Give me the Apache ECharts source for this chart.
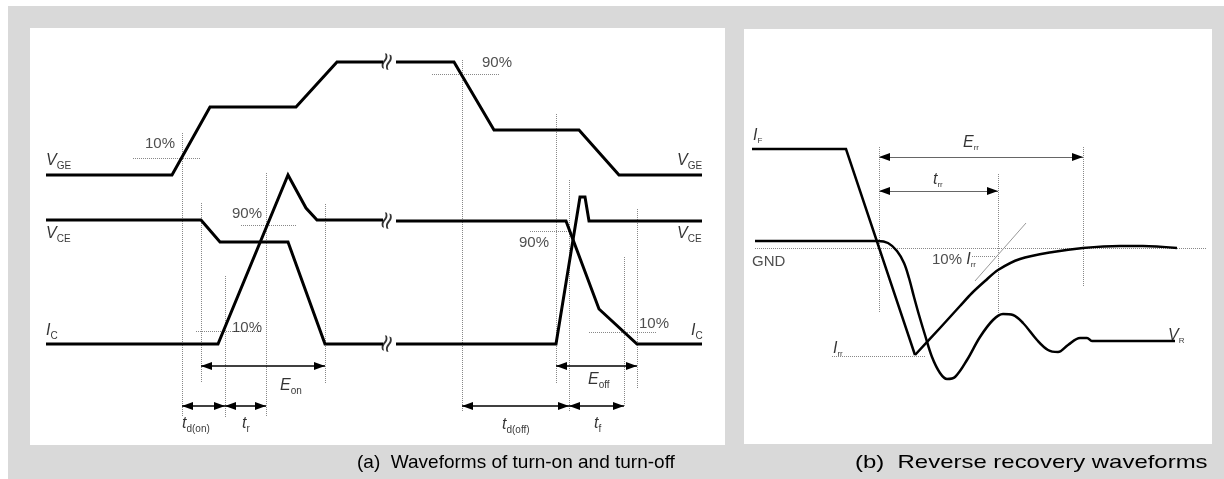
<!DOCTYPE html>
<html><head><meta charset="utf-8">
<script src="https://cdn.jsdelivr.net/npm/echarts@6/dist/echarts.min.js"></script>
<style>
html,body{margin:0;padding:0;background:#fff;}
#bg{position:absolute;left:8px;top:6px;width:1216px;height:473px;background:#d9d9d9;}
#chart{position:absolute;left:0;top:0;width:1224px;height:479px;}
</style></head><body><div id="bg"></div><div id="chart"></div>
<script>
// ---- Panel (a): turn-on / turn-off waveforms (time, level) ----
var vgeOn  = [[46,175],[172,175],[210,107],[296,107],[337,62],[383,62]];
var vgeOff = [[396,62],[454,62],[494,130],[579,130],[619,175],[702,175]];
var vceOn  = [[46,220],[201,220],[220,242],[288,242],[325,344],[383,344]];
var icOn   = [[46,344],[218,344],[288,175],[306,208],[317,220],[383,220]];
var topOff = [[396,221],[566,221],[599,309],[637,344],[702,344]];
var botOff = [[396,344],[556,344],[580,197],[585,197],[589,221],[702,221]];
var breaksA = [[388,62],[388,221],[388,344]];
var dottedA = [
  [[182,133],[182,417]], [[133,158],[201,158]], [[201,203],[201,383]],
  [[225,276],[225,417]], [[266,173],[266,417]], [[241,225],[297,225]],
  [[325,204],[325,383]], [[196,331],[262,331]], [[462,60],[462,411]],
  [[432,74],[499,74]],   [[556,114],[556,383]], [[569,180],[569,411]],
  [[637,209],[637,388]], [[624,257],[624,407]], [[530,231],[569,231]],
  [[589,332],[657,332]]
];
var arrowsA = [
  [[201,366],[325,366]], [[182,406],[225,406]], [[225,406],[266,406]],
  [[556,366],[637,366]], [[462,406],[569,406]], [[569,406],[624,406]]
];
var labelsA = [
  [46,161,'{v|V}{s|GE}'], [46,234,'{v|V}{s|CE}'], [46,331,'{v|I}{s|C}'],
  [145,144,'{n|10%}'], [232,214,'{n|90%}'], [232,328,'{n|10%}'],
  [280,386,'{v|E}{s|on}'], [182,424,'{v|t}{s|d(on)}'], [242,424,'{v|t}{s|r}'],
  [482,63,'{n|90%}'], [677,161,'{v|V}{s|GE}'], [677,234,'{v|V}{s|CE}'],
  [519,243,'{n|90%}'], [639,324,'{n|10%}'], [691,331,'{v|I}{s|C}'],
  [588,380,'{v|E}{s|off}'], [502,425,'{v|t}{s|d(off)}'], [594,424,'{v|t}{s|f}']
];
// ---- Panel (b): reverse recovery ----
var ifFall   = [[752,149],[846,149],[915,355]];
var ifRecov  = [[915,355],[940,328],[960,306],[972,293],[985,281],[998,270],[1020,259],[1053,252],[1083,248],[1120,246],[1143,246],[1177,248]];
var vrWave   = [[755,241],[878,241],[888,243],[897,251],[904,263],[909,278],[914,297],[919,315],[925,335],[932,357],[940,373],[947,379],[955,377],[967,360],[980,337],[993,320],[1003,314],[1013,315],[1023,323],[1037,340],[1048,350],[1058,352],[1068,345],[1080,338],[1087,338],[1092,341],[1175,341]];
var dottedB = [
  [[879,147],[879,312]], [[998,174],[998,313]], [[1083,147],[1083,287]],
  [[755,248],[1207,248]], [[832,356],[925,356]], [[972,256],[1000,256]]
];
var tangentB = [[[975,281],[1026,223]]];
var arrowsB = [[[879,157],[1083,157]], [[879,191],[998,191]]];
var labelsB = [
  [753,136,'{v|I}{t|F}'], [963,143,'{v|E}{t|rr}'], [933,180,'{v|t}{t|rr}'],
  [932,260,'{n|10% }{v|I}{t|rr}'], [752,262,'{n|GND}'], [833,349,'{v|I}{t|rr}'],
  [1168,336,'{v|V}{t|R}']
];
var captions = ['(a)  Waveforms of turn-on and turn-off', '(b)  Reverse recovery waveforms'];

var FONT = 'Liberation Sans';
var rich = {
  v: {fontFamily: FONT, fontStyle: 'italic', fontSize: 16, color: '#000'},
  s: {fontFamily: FONT, fontSize: 10, color: '#000', padding: [10,0,0,0]},
  t: {fontFamily: FONT, fontSize: 8, color: '#000', padding: [10,0,0,0]},
  n: {fontFamily: FONT, fontSize: 15, color: '#222'}
};
function wave(data, g, w, smooth) {
  return {type:'line', xAxisIndex:g, yAxisIndex:g, data:data, symbol:'none', smooth:smooth||false,
    lineStyle:{color:'#000', width:w, join:'miter'}, silent:true, z:5};
}
function segs(list, g, style) {
  return {type:'lines', coordinateSystem:'cartesian2d', xAxisIndex:g, yAxisIndex:g, silent:true,
    symbol:'none', data:list.map(function(s){return {coords:s};}), lineStyle:style, z:3};
}
// arrow heads: triangles whose tips sit on the arrow ends
function heads(list, g) {
  var pts = [];
  list.forEach(function(s){
    pts.push({value:s[0], symbolRotate:90, symbolOffset:[5.5,0]});
    pts.push({value:s[1], symbolRotate:-90, symbolOffset:[-5.5,0]});
  });
  return {type:'scatter', xAxisIndex:g, yAxisIndex:g, silent:true, z:6, symbol:'triangle',
    symbolSize:[8,11], itemStyle:{color:'#000', opacity:1}, data:pts};
}
function labels(list, g) {
  return {type:'scatter', xAxisIndex:g, yAxisIndex:g, symbolSize:0, silent:true, z:6,
    data:list.map(function(l){return {value:[l[0],l[1]], label:{formatter:l[2]}};}),
    label:{show:true, position:'right', distance:0, rich:rich}};
}
var chart = echarts.init(document.getElementById('chart'));
chart.setOption({
  animation:false,
  grid:[
    {left:30, top:28, width:695, height:417, show:true, backgroundColor:'#fff', borderWidth:0},
    {left:744, top:29, width:468, height:415, show:true, backgroundColor:'#fff', borderWidth:0}
  ],
  xAxis:[
    {type:'value', gridIndex:0, min:30, max:725, show:false},
    {type:'value', gridIndex:1, min:744, max:1212, show:false}
  ],
  yAxis:[
    {type:'value', gridIndex:0, min:28, max:445, inverse:true, show:false},
    {type:'value', gridIndex:1, min:29, max:444, inverse:true, show:false}
  ],
  title:[
    {text:captions[0], left:352, top:448, textStyle:{fontFamily:FONT, fontSize:19, fontWeight:'normal', color:'#000'}}
  ],
  graphic:[
    {type:'text', x:855, y:453, scaleX:1.26, silent:true,
      style:{text:captions[1], font:'19px "Liberation Sans"', fill:'#000', textVerticalAlign:'top'}}
  ],
  series:[
    wave(vgeOn,0,3), wave(vgeOff,0,3), wave(vceOn,0,3), wave(icOn,0,3), wave(topOff,0,3), wave(botOff,0,3),
    segs(dottedA,0,{type:'dotted', color:'#888', width:1, opacity:1}),
    segs(arrowsA,0,{type:'solid', color:'#000', width:1.5, opacity:1}),
    heads(arrowsA,0),
    labels(labelsA,0),
    {type:'scatter', xAxisIndex:0, yAxisIndex:0, symbolSize:0, silent:true, z:7, data:breaksA,
      label:{show:true, position:'inside', formatter:'\u2248', rotate:72, fontSize:24, fontFamily:'DejaVu Sans', color:'#000'}},
    wave(ifFall,1,2.5), wave(ifRecov,1,2.5,0.3), wave(vrWave,1,2.5,0.35),
    segs(dottedB,1,{type:'dotted', color:'#888', width:1, opacity:1}),
    segs(tangentB,1,{color:'#999', width:1, opacity:1}),
    segs(arrowsB,1,{type:'solid', color:'#666', width:1.2, opacity:1}),
    heads(arrowsB,1),
    labels(labelsB,1)
  ]
});
</script></body></html>
